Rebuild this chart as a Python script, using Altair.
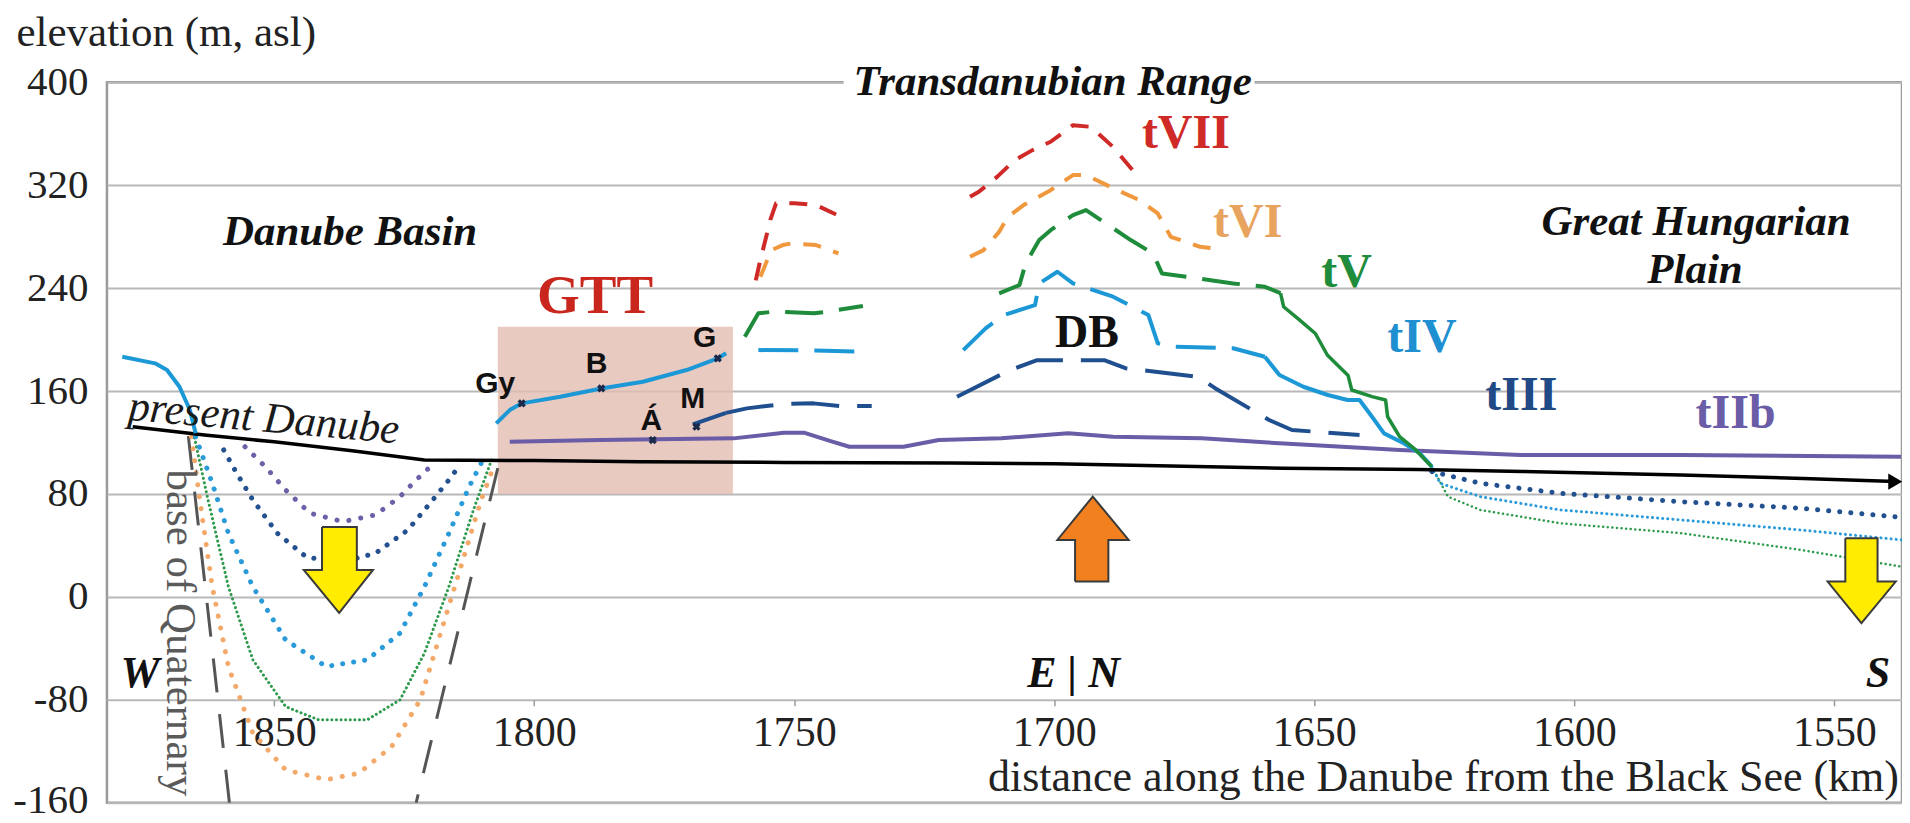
import altair as alt
import pandas as pd

# ---------------- data (km from the Black Sea, elevation m asl) ----------------
X_DOMAIN = [1537.0, 1882.15]
Y_DOMAIN = [-160, 400]
X_TICKS = [1850, 1800, 1750, 1700, 1650, 1600, 1550]
Y_TICKS = [-160, -80, 0, 80, 160, 240, 320, 400]

PRESENT_DANUBE = [(1877.2, 132.3), (1863.4, 125.8), (1850, 120.5), (1835, 113.5), (1821.1, 106.4),
                  (1800, 106), (1779.7, 105.1), (1752, 104.5), (1720, 104), (1700, 103.5),
                  (1680, 102), (1656, 100), (1630, 99), (1610, 97.5), (1579.5, 94.8),
                  (1556, 92), (1538.3, 89.6)]

TIIB = [(1804.7, 120.6), (1787.4, 122), (1761.7, 123.2), (1752, 127.5), (1748, 127.5), (1743, 121),
        (1739.4, 116.7), (1729, 116.7), (1722.2, 121.9), (1710.2, 123.2), (1697.3, 127.1),
        (1688.7, 124.5), (1671.6, 123.2), (1656.7, 119.4), (1633.5, 114.2), (1610.4, 110.3),
        (1579.5, 110.3), (1537.2, 109)]

TIII_SOLID = [(1769.5, 134), (1763.1, 143)]
TIII_DASH_A = [(1763.1, 143), (1759.1, 146.5), (1752, 150), (1746.3, 150.4), (1741.1, 148.3), (1735.1, 148.3)]
TIII_DASH_B = [(1718.7, 155.6), (1708.5, 176.3), (1703.3, 184), (1690.4, 184), (1686.2, 177.6),
               (1672.4, 171.1), (1669, 162), (1658.7, 137.5), (1654.3, 129.7), (1641.3, 125.8)]

TIV_LEFT = [(1879.2, 186.6), (1872.9, 181.5), (1870.6, 176.3), (1868.2, 163.3), (1866.2, 145.2), (1865.1, 127.1)]
TIV_GTT = [(1807.3, 134.9), (1804.7, 145.2), (1802.4, 150.4), (1795, 155.6), (1787.1, 162),
           (1779.1, 167.2), (1770.7, 176.3), (1764.7, 185.4), (1763.1, 189.3)]
TIV_DASH_A = [(1756.9, 191.8), (1746, 191.5), (1736.8, 190.5)]
TIV_DASH_B = [(1717.5, 191.8), (1713.2, 208.7), (1709.7, 219), (1703.7, 226.8), (1702.9, 243.6),
              (1699.4, 252.7), (1696.4, 243.6), (1688.7, 233.3), (1681.9, 219), (1680.1, 197),
              (1676.7, 194.4), (1665.6, 193.2), (1659.5, 186.6)]
TIV_RIGHT = [(1659.5, 186.6), (1656.7, 172.4), (1652.1, 163.3), (1647.4, 156.9), (1643.6, 153),
             (1641.3, 153), (1638.9, 140), (1636.6, 127.1), (1632.8, 119.4), (1629.7, 111.6), (1627.4, 101.2)]

TV_DASH_A = [(1759.5, 202.2), (1756.9, 220.4), (1753.9, 221.7), (1746.2, 220.4), (1743.6, 221.7), (1736.8, 226)]
TV_DASH_B = [(1710.6, 235.9), (1706.7, 242.3), (1705.5, 259.2), (1702.9, 277.3), (1700.7, 285),
             (1696.4, 296.7), (1693.9, 300.6), (1685.3, 277.3), (1681, 266.9), (1679.3, 251.4),
             (1665.6, 243.6), (1659.5, 241), (1656.5, 236)]
TV_SOLID = [(1656.5, 236), (1655.9, 225.5), (1652.8, 215.1), (1649.8, 204.7), (1647.5, 188),
            (1645.9, 181.5), (1643.5, 172), (1642.8, 160.8), (1638.9, 155.6), (1636.3, 153),
            (1635.9, 140), (1633.6, 124.5), (1630.5, 114.2), (1627.4, 101.2)]

TVI_DASH_A = [(1756.5, 248.8), (1754.4, 269.5), (1752.2, 273.4), (1750.5, 274.7), (1745.8, 273.4), (1741.5, 266.9)]
TVI_DASH_B = [(1716.2, 264.3), (1713.6, 269.5), (1710.6, 283.7), (1708.9, 295.4), (1705.9, 304.5),
              (1700.7, 316.1), (1696.4, 327.8), (1693.9, 327.8), (1687.9, 316.1), (1683.6, 308.3),
              (1680.1, 298), (1677.6, 279.8), (1672, 272.1), (1669, 270.8)]

TVII_DASH_A = [(1757.4, 246), (1756.5, 262), (1755.2, 283), (1754.6, 293), (1753.5, 305.8),
               (1750, 306), (1745.8, 304.5), (1741, 295.4)]
TVII_DASH_B = [(1716.2, 310.9), (1714.5, 314.8), (1711, 326.4), (1707.6, 339.4), (1704.2, 347.2),
               (1700.7, 353.7), (1696.4, 366.6), (1693, 365.3), (1688.7, 349.7), (1684.4, 329.1)]

# incised (subsided) terrace continuations in the Danube Basin
BASIN_TIIB = [(1855.6, 116.7), (1851.7, 101.2), (1847.8, 83.1), (1843.1, 65), (1836.8, 58.5),
              (1830.5, 63.7), (1825.8, 77.9), (1822.7, 90.9), (1820.3, 100)]
BASIN_TIII = [(1859.7, 114.2), (1857.2, 96.1), (1854.1, 75.3), (1849.4, 49.5), (1843.9, 31.3),
              (1837.6, 26.2), (1830.5, 34), (1824.3, 52), (1819.5, 75.3), (1816.4, 90.9), (1814.5, 101.2)]
BASIN_TIV = [(1865.1, 124.5), (1861.9, 88.3), (1858.8, 49.5), (1854.1, 8), (1847.8, -33.4),
             (1840, -54.1), (1832.1, -48.9), (1825.8, -28.2), (1821.1, 8), (1816.4, 49.5),
             (1812.5, 85.7), (1810.2, 103.8)]
BASIN_TV = [(1865.5, 127.1), (1862.7, 75.3), (1858.8, 8), (1854.1, -48.9), (1847.8, -85.2),
            (1841.5, -95.5), (1832.1, -95.5), (1825.8, -80), (1821.1, -43.7), (1816.4, 8),
            (1811.7, 67.4), (1808.2, 106.4)]
BASIN_TVI = [(1865.9, 124.5), (1864.3, 75.3), (1861.9, 8), (1858.8, -54.1), (1854.1, -105.8),
             (1847.8, -134.4), (1840, -142.1), (1833.7, -137), (1827.4, -116.3), (1821.9, -80),
             (1818, -28.2), (1814.1, 23.5), (1810.2, 75.3), (1807.8, 101.2)]

# subsided continuations in the Great Hungarian Plain
PLAIN_TIII = [(1627.4, 97.4), (1618.1, 88.3), (1602.7, 80.5), (1579.5, 74), (1556.4, 68.9), (1537.1, 61.9)]
PLAIN_TIV = [(1627.4, 101.2), (1625.8, 88.3), (1618.1, 77.9), (1602.7, 67.6), (1579.5, 59.8), (1556.4, 52), (1537.1, 44.3)]
PLAIN_TV = [(1627.4, 101.2), (1624.3, 77.9), (1618.1, 67.6), (1602.7, 57.2), (1579.5, 49.5), (1556.4, 36.5), (1537.1, 23.5)]

BASE_QUAT_LEFT = [(1866.5, 125), (1858.6, -160)]
BASE_QUAT_RIGHT = [(1807, 100), (1822.7, -160)]

GTT_BOX_KM = [1807, 1761.8]
GTT_BOX_M = [80, 210]

SITE_NAMES = ["Gy", "B", "G", "Á", "M"]
SITE_KM = [1802.4, 1787.1, 1764.7, 1777.2, 1768.8]
SITE_M = [150.4, 162, 185.4, 121.9, 132.3]
SITE_LABEL_KM = [1807.5, 1788, 1767.2, 1777.5, 1769.5]
SITE_LABEL_M = [158.2, 173.7, 194.4, 129.7, 146.6]

TERRACE_NAMES = ["tVII", "tVI", "tV", "tIV", "tIII", "tIIb", "GTT", "DB"]
TERRACE_LABEL_KM = [1674.7, 1662.8, 1643.8, 1629.3, 1610.2, 1569.0, 1788.3, 1693.7]
TERRACE_LABEL_M = [348.7, 279.6, 240.8, 190.3, 145.2, 131.0, 220.6, 194.2]

REGION_NAMES = ["Danube Basin", "Transdanubian Range", "Great Hungarian", "Plain"]
REGION_KM = [1835.4, 1700.3, 1576.6, 1576.8]
REGION_M = [273.4, 389.9, 281.2, 243.9]

DIRECTION_NAMES = ["W", "E | N", "S"]
DIRECTION_KM = [1875.8, 1696.3, 1541.6]
DIRECTION_M = [-70, -70, -70]

# block arrows: shaft km pair, shaft end m, head km pair, head base m, tip km, tip m
ARROW_SUBSIDE_W = [(1840.8, 1834.1), 54.4, (1844.3, 1831.0), 21.0, 1837.5, -12.4]
ARROW_SUBSIDE_S = [(1547.9, 1541.7), 45.6, (1551.3, 1538.2), 11.9, 1544.8, -20.4]
ARROW_UPLIFT = [(1696.0, 1689.6), 11.9, (1699.4, 1685.7), 44.3, 1692.6, 78.0]

TRANSDANUBIAN_MASK_KM = [1740.5, 1661.5]
TRANSDANUBIAN_MASK_M = [396.5, 403.5]

# ---------------- styling ----------------
SERIF = "Liberation Serif"
SANS = "Liberation Sans"
C_RED = "#cf2a27"
C_ORANGE = "#f0983e"
C_GREEN = "#1e8c3a"
C_LBLUE = "#1d98d6"
C_DBLUE = "#1f4f8e"
C_PURPLE = "#6a5ca6"
TEXT_C = "#222222"

xs = alt.Scale(domain=X_DOMAIN, reverse=True, nice=False, zero=False)
ys = alt.Scale(domain=Y_DOMAIN, nice=False, zero=False)

X_AXIS = alt.Axis(values=X_TICKS, title=None, grid=False, domain=False, ticks=True,
                  tickSize=6, tickColor="#9a9a9a", tickWidth=1.5, format="d",
                  labelFontSize=42, labelFont=SERIF, labelColor=TEXT_C, labelPadding=7,
                  offset=-103, labelFlush=False, labelOverlap=False)
Y_AXIS = alt.Axis(values=Y_TICKS, title="elevation (m, asl)", grid=True, gridColor="#b8b8b8",
                  gridWidth=2, domain=False, ticks=False, format="d",
                  labelExpr="'' + datum.value",
                  labelBaseline={"condition": {"test": "datum.value === -160", "value": "alphabetic"},
                                 "value": "middle"},
                  labelOffset={"condition": {"test": "datum.value === -160", "value": 10},
                               "value": 0},
                  labelFontSize=41, labelFont=SERIF, labelColor=TEXT_C, labelPadding=19,
                  labelFlush=False, labelOverlap=False,
                  titleAngle=0, titleX=-91, titleY=-37, titleAlign="left",
                  titleBaseline="alphabetic", titleFontSize=43, titleFont=SERIF,
                  titleFontWeight="normal", titleColor=TEXT_C)


def X(field="km"):
    return alt.X(f"{field}:Q", scale=xs, axis=X_AXIS)


def Y(field="m"):
    return alt.Y(f"{field}:Q", scale=ys, axis=Y_AXIS)


def lines(segs, color, width, dash=None, cap="butt"):
    frames = []
    for i, pts in enumerate(segs):
        frames.append(pd.DataFrame({"km": [p[0] for p in pts], "m": [p[1] for p in pts],
                                    "seg": i, "o": list(range(len(pts)))}))
    df = pd.concat(frames, ignore_index=True)
    props = dict(color=color, strokeWidth=width, strokeCap=cap, strokeJoin="round", clip=True)
    if dash is not None:
        props["strokeDash"] = dash
    return alt.Chart(df).mark_line(**props).encode(x=X(), y=Y(), detail="seg:N", order="o:Q")


def block_arrow(spec, fill):
    shaft, shaft_end, head, base, tip_km, tip_m = spec
    verts = [(shaft[0], shaft_end), (shaft[1], shaft_end), (shaft[1], base), (head[1], base),
             (tip_km, tip_m), (head[0], base), (shaft[0], base), (shaft[0], shaft_end)]
    df = pd.DataFrame(verts, columns=["km", "m"])
    df["o"] = range(len(df))
    return alt.Chart(df).mark_line(fill=fill, stroke="#3a3a3a", strokeWidth=2,
                                   strokeJoin="miter").encode(x=X(), y=Y(), order="o:Q")


def texts(labels, kms, ms, **props):
    df = pd.DataFrame({"km": kms, "m": ms, "t": labels})
    return alt.Chart(df).mark_text(**props).encode(x=X(), y=Y(), text="t:N")


def rect(kms, ms, **props):
    df = pd.DataFrame({"km": [kms[0]], "km2": [kms[1]], "m": [ms[0]], "m2": [ms[1]]})
    return alt.Chart(df).mark_rect(**props).encode(x=X(), x2="km2:Q", y=Y(), y2="m2:Q")


layers = []
layers.append(rect(GTT_BOX_KM, GTT_BOX_M, fill="#e2bdb1", opacity=0.8))
layers.append(rect(TRANSDANUBIAN_MASK_KM, TRANSDANUBIAN_MASK_M, fill="white"))

# base of Quaternary
layers.append(lines([BASE_QUAT_LEFT, BASE_QUAT_RIGHT], "#555555", 3, dash=[34, 22]))

# basin dotted curves
layers.append(lines([BASIN_TVI], "#f3a96a", 5, dash=[0.1, 12], cap="round"))
layers.append(lines([BASIN_TV], "#2e9a4c", 3, dash=[0.1, 4.5], cap="round"))
layers.append(lines([BASIN_TIV], "#2a9ad8", 5, dash=[0.1, 11], cap="round"))
layers.append(lines([BASIN_TIII], "#23508f", 5, dash=[0.1, 11], cap="round"))
layers.append(lines([BASIN_TIIB], "#6d5fa8", 5, dash=[0.1, 12], cap="round"))

# plain dotted curves
layers.append(lines([PLAIN_TV], "#2e9a4c", 2.5, dash=[0.1, 4.5], cap="round"))
layers.append(lines([PLAIN_TIV], "#2a9ad8", 3, dash=[0.1, 5], cap="round"))
layers.append(lines([PLAIN_TIII], "#23508f", 5, dash=[0.1, 11], cap="round"))

# present Danube
layers.append(lines([PRESENT_DANUBE], "black", 3.5))
layers.append(alt.Chart(pd.DataFrame({"km": [PRESENT_DANUBE[-1][0]], "m": [PRESENT_DANUBE[-1][1]]}))
              .mark_point(shape="triangle-right", filled=True, size=260, color="black", opacity=1)
              .encode(x=X(), y=Y()))

# terraces
layers.append(lines([TIIB], C_PURPLE, 4))
layers.append(lines([TIII_SOLID], C_DBLUE, 4))
layers.append(lines([TIII_DASH_A, TIII_DASH_B], C_DBLUE, 4, dash=[48, 18]))
layers.append(lines([TIV_LEFT, TIV_GTT, TIV_RIGHT], C_LBLUE, 4))
layers.append(lines([TIV_DASH_A, TIV_DASH_B], C_LBLUE, 4, dash=[40, 16]))
layers.append(lines([TV_SOLID], C_GREEN, 3.5))
layers.append(lines([TV_DASH_A, TV_DASH_B], C_GREEN, 4, dash=[38, 16]))
layers.append(lines([TVI_DASH_A, TVI_DASH_B], C_ORANGE, 4, dash=[18, 13]))
layers.append(lines([TVII_DASH_A, TVII_DASH_B], C_RED, 4, dash=[18, 13]))

# arrows
layers.append(block_arrow(ARROW_SUBSIDE_W, "#ffec00"))
layers.append(block_arrow(ARROW_SUBSIDE_S, "#ffec00"))
layers.append(block_arrow(ARROW_UPLIFT, "#f2801f"))

# site markers
layers.append(alt.Chart(pd.DataFrame({"km": SITE_KM, "m": SITE_M}))
              .mark_point(shape="cross", angle=45, filled=True, size=70, color="#1b2a4a", opacity=1)
              .encode(x=X(), y=Y()))
layers.append(texts(SITE_NAMES, SITE_LABEL_KM, SITE_LABEL_M, font=SANS, fontWeight="bold",
                    fontSize=30, color="#111111", align="center", baseline="alphabetic"))

# terrace labels
TERRACE_COLORS = {"tVII": C_RED, "tVI": "#e8a35e", "tV": C_GREEN, "tIV": "#1e8fd0",
                  "tIII": "#1f4a86", "tIIb": "#6a5ca6", "GTT": "#c9261d", "DB": "#111111"}
TERRACE_SIZES = {"tVII": 48, "tVI": 48, "tV": 48, "tIV": 48, "tIII": 48, "tIIb": 48, "GTT": 55, "DB": 46}
tdf = pd.DataFrame({"km": TERRACE_LABEL_KM, "m": TERRACE_LABEL_M, "t": TERRACE_NAMES})
tdf["c"] = [TERRACE_COLORS[t] for t in TERRACE_NAMES]
tdf["fs"] = [TERRACE_SIZES[t] for t in TERRACE_NAMES]
layers.append(alt.Chart(tdf).mark_text(font=SERIF, fontWeight="bold", align="center",
                                       baseline="alphabetic").encode(
    x=X(), y=Y(), text="t:N", color=alt.Color("c:N", scale=None),
    size=alt.Size("fs:Q", scale=None)))

# regions and directions
layers.append(texts(REGION_NAMES, REGION_KM, REGION_M, font=SERIF, fontWeight="bold",
                    fontStyle="italic", fontSize=43, color="#111111", align="center",
                    baseline="alphabetic"))
layers.append(texts(DIRECTION_NAMES, DIRECTION_KM, DIRECTION_M, font=SERIF, fontWeight="bold",
                    fontStyle="italic", fontSize=44, color="#111111", align="center",
                    baseline="alphabetic"))

# river / geology labels
layers.append(texts(["present Danube"], [1852.2], [128.5], font=SERIF, fontStyle="italic",
                    fontSize=43, color="#1a1a1a", align="center", baseline="alphabetic", angle=5))
layers.append(texts(["base of Quaternary"], [1868.1], [-28], font=SERIF, fontSize=43,
                    color="#5a5a5a", align="center", baseline="middle", angle=90))
layers.append(texts(["distance along the Danube from the Black See (km)"], [1537.6], [-151],
                    font=SERIF, fontSize=44, color=TEXT_C, align="right", baseline="alphabetic"))

chart = alt.layer(*layers).properties(
    width=1796, height=721,
    autosize=alt.AutoSizeParams(type="none"),
    padding={"left": 99, "top": 74, "right": 0, "bottom": 16},
    background="white",
).configure_view(stroke="#9a9a9a", strokeWidth=2.5)

chart.save("out.html", embed_options={"renderer": "svg", "actions": False})
